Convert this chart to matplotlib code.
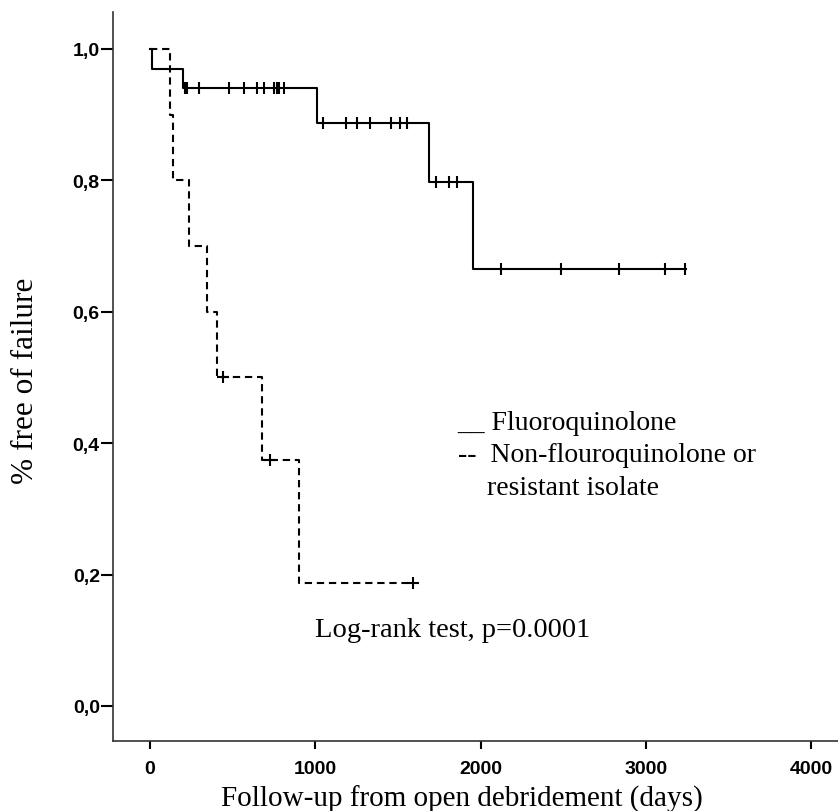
import matplotlib
matplotlib.use("Agg")
import matplotlib.pyplot as plt
import numpy as np

# Fluoroquinolone group (Kaplan-Meier steps)
fq_time = [0, 10, 201, 1009, 1688, 1953, 3245]
fq_surv = [1.0, 0.970, 0.940, 0.887, 0.797, 0.665, 0.665]
fq_cens_time = [213, 227, 298, 480, 571, 650, 692, 751, 767, 782, 811,
                1045, 1186, 1255, 1331, 1457, 1513, 1557,
                1731, 1809, 1860,
                2122, 2485, 2838, 3118, 3235]
fq_cens_surv = [0.940] * 11 + [0.887] * 7 + [0.797] * 3 + [0.665] * 5

# Non-fluoroquinolone or resistant isolate
nfq_time = [0, 121, 137, 238, 343, 407, 680, 902, 1594]
nfq_surv = [1.0, 0.9, 0.8, 0.7, 0.6, 0.5, 0.375, 0.1875, 0.1875]
nfq_cens_time = [440, 726, 1594]
nfq_cens_surv = [0.5, 0.375, 0.1875]

xticks = [0, 1000, 2000, 3000, 4000]
yticks = [0.0, 0.2, 0.4, 0.6, 0.8, 1.0]
ytick_labels = ["0,0", "0,2", "0,4", "0,6", "0,8", "1,0"]

serif = ["Liberation Serif", "DejaVu Serif"]
sans = ["Liberation Sans", "DejaVu Sans"]

fig = plt.figure(figsize=(8.38, 8.12), dpi=100)
ax = fig.add_axes([0.1348, 0.0862, 0.8652, 0.8978])

ax.step(fq_time, fq_surv, where="post", color="black", lw=1.5)
ax.plot(fq_cens_time, fq_cens_surv, ls="none", marker="|", ms=9, mew=1.5, color="black")

ax.step(nfq_time, nfq_surv, where="post", color="black", lw=1.5, ls=(0, (3.5, 2.3)))
ax.plot(nfq_cens_time, nfq_cens_surv, ls="none", marker="+", ms=8.5, mew=1.5, color="black")

ax.set_xlim(-224, 4163)
ax.set_ylim(-0.0533, 1.056)

ax.spines["top"].set_visible(False)
ax.spines["right"].set_visible(False)
for s in ["left", "bottom"]:
    ax.spines[s].set_linewidth(1.2)
    ax.spines[s].set_color("#333333")

ax.set_xticks(xticks)
ax.set_xticklabels([str(t) for t in xticks], family=sans, fontsize=14, fontweight="bold")
ax.set_yticks(yticks)
ax.set_yticklabels(ytick_labels, family=sans, fontsize=14, fontweight="bold")
ax.tick_params(axis="x", length=6, width=1.5, pad=8)
ax.tick_params(axis="y", length=8.5, width=1.5, pad=1)

ax.set_xlabel("Follow-up from open debridement (days)", family=serif, fontsize=21)
ax.xaxis.set_label_coords(0.4807, -0.079)
ax.xaxis.label.set_va("center")
ax.set_ylabel("% free of failure", family=serif, fontsize=22.5)
ax.yaxis.set_label_coords(-0.1205, 0.495)
ax.yaxis.label.set_va("center")

ax.text(1858, 0.4216, "__ Fluoroquinolone", family=serif, fontsize=20, va="baseline")
ax.text(1864, 0.3729, "--  Non-flouroquinolone or", family=serif, fontsize=20, va="baseline")
ax.text(2039, 0.3227, "resistant isolate", family=serif, fontsize=20, va="baseline")
ax.text(998, 0.1065, "Log-rank test, p=0.0001", family=serif, fontsize=20.5, va="baseline")

fig.savefig("out.png", dpi=100)
